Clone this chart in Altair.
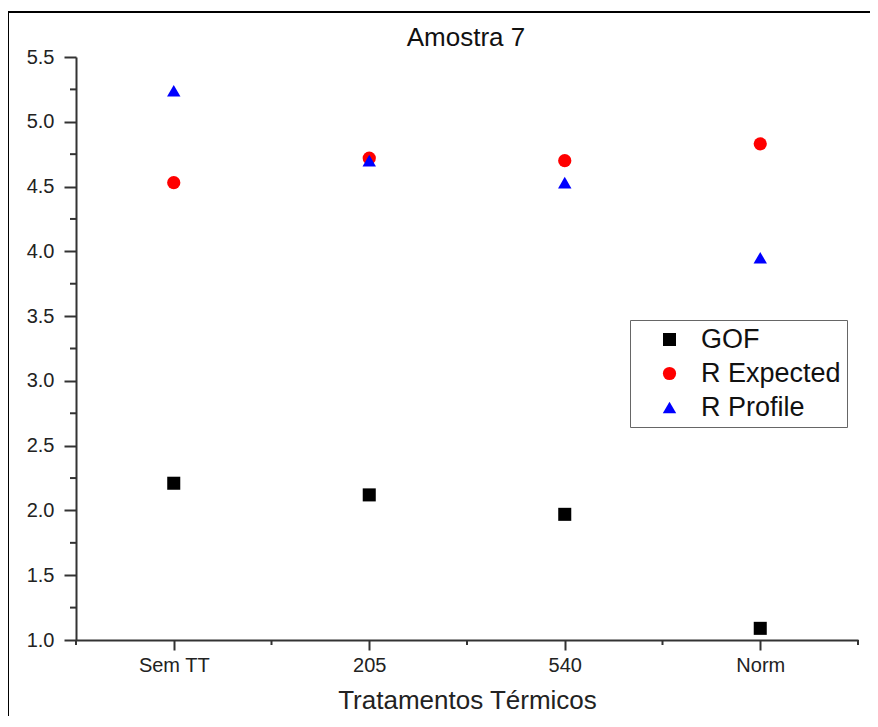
import altair as alt
import pandas as pd

categories = ["Sem TT", "205", "540", "Norm"]
positions = [0.5, 1.5, 2.5, 3.5]
gof = [2.21, 2.12, 1.97, 1.09]
r_expected = [4.53, 4.72, 4.70, 4.83]
r_profile = [5.24, 4.70, 4.53, 3.95]
series_names = ["GOF", "R Expected", "R Profile"]
x_minor = [0, 1, 2, 3, 4]
y_minor = [1.25, 1.75, 2.25, 2.75, 3.25, 3.75, 4.25, 4.75, 5.25]
chart_title = ["Amostra 7"]

rows = []
for name, vals in zip(series_names, [gof, r_expected, r_profile]):
    for p, c, v in zip(positions, categories, vals):
        rows.append({"pos": p, "cat": c, "value": v, "series": name})
df = pd.DataFrame(rows)

FONT = "Liberation Sans"
W, H = 782, 583

label_expr = " : ".join(
    f"datum.value == {p} ? '{c}'" for p, c in zip(positions, categories)
) + " : ''"

x_scale = alt.Scale(domain=[0, 4], nice=False, zero=False)
y_scale = alt.Scale(domain=[1.0, 5.5], nice=False, zero=False)

legend = alt.Legend(title=None, orient="none", legendX=554, legendY=263,
                    strokeColor="#666", padding=6, symbolOffset=20, labelOffset=18,
                    labelFont=FONT, labelFontSize=27, labelColor="#111",
                    symbolSize=150, rowPadding=6, symbolStrokeWidth=0)

points = alt.Chart(df).mark_point(filled=True, opacity=1, strokeWidth=0).encode(
    x=alt.X("pos:Q", scale=x_scale,
            axis=alt.Axis(values=positions, labelExpr=label_expr, title="Tratamentos Térmicos",
                          grid=False, tickSize=10, tickWidth=2, domainWidth=2,
                          domainColor="#333", tickColor="#333",
                          labelFont=FONT, labelFontSize=20, labelColor="#222", labelPadding=5,
                          titleFont=FONT, titleFontSize=26, titleFontWeight="normal",
                          titleColor="#222", titlePadding=12)),
    y=alt.Y("value:Q", scale=y_scale,
            axis=alt.Axis(values=[1.0, 1.5, 2.0, 2.5, 3.0, 3.5, 4.0, 4.5, 5.0, 5.5], format=".1f",
                          title=None, grid=False, tickSize=12, tickWidth=2, domainWidth=2,
                          domainColor="#333", tickColor="#333",
                          labelFont=FONT, labelFontSize=20, labelColor="#222", labelPadding=10)),
    color=alt.Color("series:N", scale=alt.Scale(domain=series_names, range=["#000000", "#ff0000", "#0000ff"]),
                    legend=legend),
    shape=alt.Shape("series:N", scale=alt.Scale(domain=series_names, range=["square", "circle", "triangle-up"]),
                    legend=legend),
    size=alt.Size("series:N", scale=alt.Scale(domain=series_names, range=[170, 180, 300]), legend=None),
)

xminor = alt.Chart(pd.DataFrame({"x": x_minor})).mark_rule(color="#333", strokeWidth=2).encode(
    x=alt.X("x:Q", scale=x_scale),
    y=alt.value(H), y2=alt.value(H + 5),
)
yminor = alt.Chart(pd.DataFrame({"y": y_minor})).mark_rule(color="#333", strokeWidth=2).encode(
    y=alt.Y("y:Q", scale=y_scale),
    x=alt.value(-6), x2=alt.value(0),
)

frame = alt.Chart(pd.DataFrame({"a": [0]})).mark_rect(
    fillOpacity=0, stroke="black", strokeWidth=2
).encode(
    x=alt.value(-68), x2=alt.value(830), y=alt.value(-45), y2=alt.value(700)
)

title = alt.Chart(pd.DataFrame({"t": chart_title})).mark_text(
    font=FONT, fontSize=26, color="#111", align="center", baseline="alphabetic"
).encode(
    text="t:N", x=alt.value(W / 2 - 1), y=alt.value(-11)
)

chart = alt.layer(frame, xminor, yminor, points, title).properties(
    width=W, height=H,
    padding={"left": 68, "top": 49, "right": 12, "bottom": 76},
    autosize=alt.AutoSizeParams(type="none"),
).configure_view(stroke=None)

chart.save("out.html", embed_options={"renderer": "svg", "actions": False})
